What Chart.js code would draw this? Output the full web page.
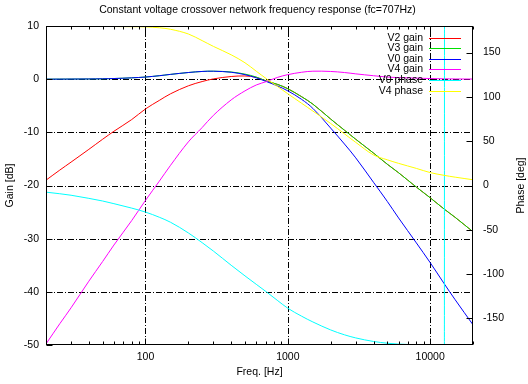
<!DOCTYPE html>
<html>
<head>
<meta charset="utf-8">
<title>Constant voltage crossover network frequency response</title>
<script src="https://cdn.jsdelivr.net/npm/chart.js@4/dist/chart.umd.min.js"></script>
<style>
  html, body { margin: 0; padding: 0; background: #fff; }
  #wrap { width: 528px; height: 384px; }
</style>
</head>
<body>
<div id="wrap"><canvas id="myChart" width="528" height="384"></canvas></div>
<script>
// frequency points [Hz]
var freq = [20, 25, 30, 40, 50, 60, 80, 100, 125, 150, 200, 250, 300, 400, 500, 600, 707,
            850, 1000, 1250, 1500, 2000, 2500, 3000, 4000, 5000, 6000, 8000, 10000, 12500, 15000, 20000];

// gains [dB]
var v2Gain = [-19, -17.1, -15.6, -13.2, -11.3, -9.8, -7.6, -5.6, -4.0, -2.75, -1.25, -0.45, 0.05, 0.5, 0.6, 0.35, -0.35,
              -1.0, -1.8, -3.3, -4.7, -7.5, -9.6, -11.3, -13.9, -16.0, -17.6, -20.3, -22.3, -24.4, -26.0, -28.7];
var v3Gain = [0, 0.01, 0.02, 0.04, 0.07, 0.12, 0.25, 0.4, 0.65, 0.9, 1.25, 1.45, 1.5, 1.35, 0.95, 0.4, -0.35,
              -1.0, -1.8, -3.3, -4.7, -7.5, -9.6, -11.3, -13.9, -16.0, -17.6, -20.3, -22.3, -24.4, -26.0, -28.7];
var v0Gain = [0, 0.01, 0.02, 0.04, 0.07, 0.12, 0.25, 0.4, 0.65, 0.9, 1.25, 1.45, 1.5, 1.3, 0.85, 0.25, -0.45,
              -1.3, -2.2, -3.8, -5.5, -9.2, -12.2, -14.8, -19.4, -23.0, -26.1, -30.8, -34.5, -38.4, -41.5, -46.2];
var v4Gain = [-49.8, -46, -43, -38, -34.3, -31.2, -26.6, -22.8, -19.2, -16.2, -11.8, -9.1, -6.8, -3.9, -2.2, -1.1, -0.45,
              0.35, 0.85, 1.3, 1.5, 1.45, 1.25, 1.0, 0.65, 0.4, 0.3, 0.2, 0.12, 0.07, 0.04, 0.02];

// phases [deg]; V0 phase wraps from -180 to +180 near 12.6 kHz
var v0PhaseFreq = [20, 25, 30, 40, 50, 60, 80, 100, 125, 150, 200, 250, 300, 400, 500, 600, 707,
                   850, 1000, 1250, 1500, 2000, 2500, 3000, 4000, 5000, 6000, 8000, 10000, 11500, 12590, 12610, 15000, 20000];
var v0Phase = [-7.5, -9.3, -11, -14.5, -17.5, -20.5, -25.5, -30, -35.8, -41.5, -53.5, -64.5, -74, -90, -102, -111.5, -120,
               -130, -138.5, -147.5, -154, -163, -168.5, -172, -176, -178, -179, -179.6, -179.9, -179.97, -180, 180, 179.9, 179.7];
var v4Phase = [180, 180, 180, 179.8, 179.6, 179.4, 179.2, 179, 178, 176.3, 171, 163.5, 157, 147.5, 138.5, 129, 120.5,
               111.5, 103.5, 92.8, 84, 70, 58.3, 48.7, 34.5, 29, 25, 19.3, 14.6, 11.5, 9.4, 6.5];

// axis ticks
var freqTicks = [100, 1000, 10000];
var freqMinor = [20, 30, 40, 50, 60, 70, 80, 90, 200, 300, 400, 500, 600, 700, 800, 900,
                 2000, 3000, 4000, 5000, 6000, 7000, 8000, 9000, 20000];
var gainTicks = [-50, -40, -30, -20, -10, 0, 10];
var gainGrid = [-40, -30, -20, -10, 0];
var phaseTicks = [-150, -100, -50, 0, 50, 100, 150];

function pts(xs, ys) {
  return xs.map(function(x, i) { return { x: x, y: ys[i] }; });
}

Chart.defaults.font.family = "'Liberation Sans', Arial, sans-serif";
Chart.defaults.font.size = 10.5;
Chart.defaults.color = "#000";

// gnuplot-like frame, grid, inward ticks, titles and legend
var gnuplotFrame = {
  id: "gnuplotFrame",
  beforeDatasetsDraw: function(chart) {
    var ctx = chart.ctx, a = chart.chartArea;
    var xs = chart.scales.x, yl = chart.scales.y;
    ctx.save();
    ctx.strokeStyle = "#000";
    ctx.lineWidth = 1;
    ctx.setLineDash([6, 2, 1, 2]);
    freqTicks.forEach(function(f) {
      var px = Math.round(xs.getPixelForValue(f)) + 0.5;
      ctx.beginPath(); ctx.moveTo(px, a.bottom); ctx.lineTo(px, a.top); ctx.stroke();
    });
    gainGrid.forEach(function(g) {
      var py = Math.round(yl.getPixelForValue(g)) + 0.5;
      ctx.beginPath(); ctx.moveTo(a.left, py); ctx.lineTo(a.right, py); ctx.stroke();
    });
    ctx.restore();
  },
  afterDatasetsDraw: function(chart) {
    var ctx = chart.ctx, a = chart.chartArea;
    var xs = chart.scales.x, yl = chart.scales.y, yr = chart.scales.y2;
    var L = Math.round(a.left) + 0.5, R = Math.round(a.right) - 0.5;
    var T = Math.round(a.top) + 0.5, B = Math.round(a.bottom) - 0.5;
    ctx.save();
    ctx.strokeStyle = "#000";
    ctx.lineWidth = 1;
    ctx.setLineDash([]);
    ctx.strokeRect(L, T, R - L, B - T);

    ctx.beginPath();
    freqTicks.forEach(function(f) {
      var px = Math.round(xs.getPixelForValue(f)) + 0.5;
      ctx.moveTo(px, B); ctx.lineTo(px, B - 6);
      ctx.moveTo(px, T); ctx.lineTo(px, T + 6);
    });
    freqMinor.forEach(function(f) {
      var px = Math.round(xs.getPixelForValue(f)) + 0.5;
      ctx.moveTo(px, B); ctx.lineTo(px, B - 3);
      ctx.moveTo(px, T); ctx.lineTo(px, T + 3);
    });
    gainTicks.forEach(function(g) {
      var py = Math.round(yl.getPixelForValue(g)) + 0.5;
      ctx.moveTo(L, py); ctx.lineTo(L + 6, py);
    });
    phaseTicks.forEach(function(p) {
      var py = Math.round(yr.getPixelForValue(p)) + 0.5;
      ctx.moveTo(R, py); ctx.lineTo(R - 6, py);
    });
    ctx.stroke();

    // legend, top right inside the plot
    ctx.font = "10.5px 'Liberation Sans', Arial, sans-serif";
    ctx.textAlign = "right";
    ctx.textBaseline = "middle";
    chart.data.datasets.forEach(function(ds, i) {
      var y = Math.round(37.5 + i * 10.6) + 0.5;
      ctx.fillStyle = "#000";
      ctx.fillText(ds.label, 423, y);
      ctx.strokeStyle = ds.borderColor;
      ctx.beginPath(); ctx.moveTo(429, y); ctx.lineTo(461, y); ctx.stroke();
    });

    // titles
    var cx = (a.left + a.right) / 2, cy = (a.top + a.bottom) / 2;
    ctx.fillStyle = "#000";
    ctx.textAlign = "center";
    ctx.fillText("Constant voltage crossover network frequency response (fc=707Hz)", cx - 2, 10.5);
    ctx.fillText("Freq. [Hz]", cx, 372);
    ctx.translate(10, cy);
    ctx.rotate(-Math.PI / 2);
    ctx.fillText("Gain [dB]", 0, 0);
    ctx.rotate(Math.PI / 2);
    ctx.translate(511, 0);
    ctx.rotate(-Math.PI / 2);
    ctx.fillText("Phase [deg]", 0, 0);
    ctx.restore();
  }
};

var ctx = document.getElementById("myChart").getContext("2d");
var chart = new Chart(ctx, {
  type: "line",
  data: {
    datasets: [
      { label: "V2 gain", data: pts(freq, v2Gain), borderColor: "#ff0000", yAxisID: "y", order: 6 },
      { label: "V3 gain", data: pts(freq, v3Gain), borderColor: "#00e000", yAxisID: "y", order: 5 },
      { label: "V0 gain", data: pts(freq, v0Gain), borderColor: "#0000ff", yAxisID: "y", order: 4 },
      { label: "V4 gain", data: pts(freq, v4Gain), borderColor: "#ff00ff", yAxisID: "y", order: 3 },
      // monotone keeps the wrap jump a clean vertical line
      { label: "V0 phase", data: pts(v0PhaseFreq, v0Phase), borderColor: "#00ffff", yAxisID: "y2", order: 2,
        cubicInterpolationMode: "monotone" },
      { label: "V4 phase", data: pts(freq, v4Phase), borderColor: "#ffff00", yAxisID: "y2", order: 1 }
    ]
  },
  options: {
    responsive: false,
    animation: false,
    layout: { padding: { top: 26 } },
    elements: {
      line: { borderWidth: 1, tension: 0.35, fill: false },
      point: { radius: 0, hoverRadius: 0 }
    },
    plugins: { legend: { display: false }, title: { display: false }, tooltip: { enabled: false } },
    scales: {
      x: {
        type: "logarithmic",
        position: "bottom",
        min: 20,
        max: 20000,
        afterBuildTicks: function(s) { s.ticks = freqTicks.map(function(v) { return { value: v }; }); },
        afterFit: function(s) { s.height = 39; },
        ticks: { padding: 6, maxRotation: 0, autoSkip: false, callback: function(v) { return String(v); } },
        grid: { display: false, drawTicks: false },
        border: { display: false }
      },
      y: {
        type: "linear",
        position: "left",
        min: -50,
        max: 10,
        afterBuildTicks: function(s) { s.ticks = gainTicks.map(function(v) { return { value: v }; }); },
        afterFit: function(s) { s.width = 46; },
        ticks: { padding: 7 },
        grid: { display: false, drawTicks: false },
        border: { display: false }
      },
      y2: {
        type: "linear",
        position: "right",
        min: -180,
        max: 180,
        afterBuildTicks: function(s) { s.ticks = phaseTicks.map(function(v) { return { value: v }; }); },
        afterFit: function(s) { s.width = 55; },
        ticks: { padding: 10 },
        grid: { display: false, drawTicks: false },
        border: { display: false }
      }
    }
  },
  plugins: [gnuplotFrame]
});
</script>
</body>
</html>
